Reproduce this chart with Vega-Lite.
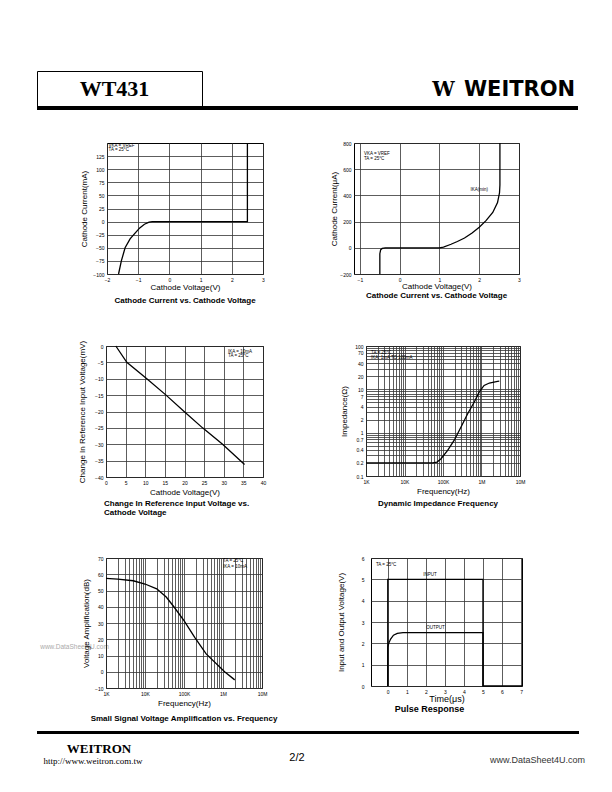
{
"$schema":"https://vega.github.io/schema/vega-lite/v6.json",
"padding":{"left":36,"top":70,"right":0,"bottom":0},
"config":{
  "view":{"stroke":null},
  "font":"Liberation Sans",
  "axis":{"tickCount":100,"format":"d","labelFontSize":5,"labelFont":"Liberation Sans","titleFont":"Liberation Sans","titleFontSize":8,"titleFontWeight":"normal","domain":false,"ticks":false,"labelPadding":3,"gridColor":"#333","gridWidth":0.8,"gridOpacity":1,"labelOverlap":false,"labelFlush":false,"labelBound":false,"labelColor":"black","titleColor":"black"},
  "title":{"font":"Liberation Sans","fontSize":8,"fontWeight":"bold","color":"black","orient":"bottom","anchor":"middle","frame":"group"},
  "text":{"color":"black"},
  "line":{"color":"black"}
},
"datasets":{
  "c1":[{"v":-1.63,"i":-100},{"v":-1.54,"i":-75},{"v":-1.42,"i":-50},{"v":-1.26,"i":-33},{"v":-1.1,"i":-22},{"v":-0.95,"i":-12},{"v":-0.8,"i":-5},{"v":-0.65,"i":-1},{"v":-0.55,"i":0},{"v":2.5,"i":0},{"v":2.5,"i":150}],
  "c1n":[{"v":-1.95,"i":144,"t":"VKA = VREF"},{"v":-1.95,"i":136,"t":"TA = 25°C"}],
  "c2":[{"v":-0.5,"i":-200},{"v":-0.5,"i":-45},{"v":-0.48,"i":-15},{"v":-0.44,"i":-5},{"v":-0.36,"i":0},{"v":1.0,"i":0},{"v":1.1,"i":6},{"v":1.29,"i":27},{"v":1.45,"i":48},{"v":1.63,"i":75},{"v":1.82,"i":113},{"v":2.0,"i":157},{"v":2.17,"i":207},{"v":2.34,"i":270},{"v":2.46,"i":345},{"v":2.51,"i":420},{"v":2.52,"i":480},{"v":2.52,"i":800}],
  "c2n":[{"v":-0.9,"i":716,"t":"VKA = VREF"},{"v":-0.9,"i":678,"t":"TA = 25°C"},{"v":1.78,"i":440,"t":"IKA(min)"}],
  "c3":[{"v":2.5,"d":0},{"v":5.3,"d":-5},{"v":10.4,"d":-10},{"v":15.3,"d":-15},{"v":19.9,"d":-20},{"v":24.6,"d":-25},{"v":29.7,"d":-30},{"v":35.3,"d":-36.2}],
  "c3n":[{"v":31.1,"d":-1.8,"t":"IKA = 10mA"},{"v":31.1,"d":-3.1,"t":"TA = 25°C"}],
  "c4":[{"f":1000,"z":0.2},{"f":54000,"z":0.2},{"f":70000,"z":0.21},{"f":89000,"z":0.25},{"f":132000,"z":0.39},{"f":196000,"z":0.67},{"f":294000,"z":1.35},{"f":437000,"z":2.74},{"f":650000,"z":5.1},{"f":876000,"z":8.7},{"f":1170000,"z":12.3},{"f":1600000,"z":14},{"f":2600000,"z":15.3},{"f":2900000,"z":15.4}],
  "c4n":[{"f":1350,"z":70,"t":"TA = 25°C"},{"f":1350,"z":54,"t":"IKA: 1mA TO 100mA"}],
  "c5":[{"f":1000,"g":57.5},{"f":2000,"g":57},{"f":5000,"g":56},{"f":10000,"g":54},{"f":20000,"g":51},{"f":35000,"g":46},{"f":55000,"g":40},{"f":100000,"g":31.5},{"f":190000,"g":21},{"f":370000,"g":11},{"f":1100000,"g":0},{"f":2000000,"g":-5}],
  "c5n":[{"f":1000000,"g":68,"t":"TA = 25°C"},{"f":1000000,"g":64.5,"t":"IKA = 10mA"}],
  "c6":[{"s":"Input","x":0,"y":0},{"s":"Input","x":0,"y":5},{"s":"Input","x":5,"y":5},{"s":"Input","x":5,"y":0},{"s":"Input","x":7.05,"y":0},
        {"s":"Output","x":0,"y":0},{"s":"Output","x":0,"y":1.8},{"s":"Output","x":0.05,"y":2.0},{"s":"Output","x":0.15,"y":2.2},{"s":"Output","x":0.3,"y":2.38},{"s":"Output","x":0.5,"y":2.47},{"s":"Output","x":0.8,"y":2.5},{"s":"Output","x":5,"y":2.5},{"s":"Output","x":5,"y":0}],
  "c6n":[{"x":-0.62,"y":5.67,"t":"TA = 25°C"},{"x":1.86,"y":5.2,"t":"INPUT"},{"x":2.02,"y":2.72,"t":"OUTPUT"}]
},
"bounds":"flush",
"spacing":0,
"vconcat":[
  {"bounds":"flush","spacing":0,"hconcat":[
    {"width":165,"height":35,"view":{"stroke":"black","strokeWidth":1},"data":{"values":[{"t":"WT431"}]},"mark":{"type":"text","font":"Liberation Serif","fontWeight":"bold","fontSize":22,"baseline":"alphabetic","dx":-5,"dy":7.5},"encoding":{"text":{"field":"t"}}},
    {"width":224,"height":35,"data":{"values":[]},"mark":"point"},
    {"width":35,"height":35,"data":{"values":[{"t":"W"}]},"mark":{"type":"text","font":"DejaVu Serif","fontWeight":"bold","fontSize":20,"baseline":"middle","dy":1},"encoding":{"text":{"field":"t"}}},
    {"width":117,"height":35,"data":{"values":[{"t":"WEITRON"}]},"mark":{"type":"text","font":"DejaVu Sans","fontWeight":"bold","fontSize":21,"baseline":"alphabetic","dy":7.5},"encoding":{"text":{"field":"t"}}}
  ]},
  {"width":1,"height":35,"data":{"values":[]},"mark":"point"},
  {"width":541,"height":4,"data":{"values":[]},"mark":"point","view":{"fill":"black","stroke":null}},
  {"width":1,"height":33,"data":{"values":[]},"mark":"point"},
  {"bounds":"flush","spacing":0,"hconcat":[
    {"width":70,"height":1,"data":{"values":[]},"mark":"point"},
    {"width":156,"height":131,"view":{"stroke":"black","strokeWidth":1},
     "title":{"text":"Cathode Current vs. Cathode Voltage","offset":6},
     "layer":[
      {"data":{"name":"c1"},"mark":{"type":"line","strokeWidth":1.3},
       "encoding":{"x":{"field":"v","type":"quantitative","scale":{"domain":[-2,3],"nice":false,"zero":false},"axis":{"values":[-2,-1,0,1,2,3],"title":"Cathode Voltage(V)","titlePadding":1}},
                   "y":{"field":"i","type":"quantitative","scale":{"domain":[-100,150],"nice":false,"zero":false},"axis":{"values":[-100,-75,-50,-25,0,25,50,75,100,125],"title":"Cathode Current(mA)","titlePadding":4}},
                   "order":{"value":null}}},
      {"data":{"name":"c1n"},"mark":{"type":"text","align":"left","fontSize":4.5,"baseline":"middle"},
       "encoding":{"x":{"field":"v","type":"quantitative"},"y":{"field":"i","type":"quantitative"},"text":{"field":"t"}}}
     ]},
    {"width":91,"height":1,"data":{"values":[]},"mark":"point"},
    {"width":165,"height":131,"view":{"stroke":"black","strokeWidth":1},
     "title":{"text":"Cathode Current vs. Cathode Voltage","offset":2},
     "layer":[
      {"data":{"name":"c2"},"mark":{"type":"line","strokeWidth":1.3},
       "encoding":{"x":{"field":"v","type":"quantitative","scale":{"domain":[-1.15,3],"nice":false,"zero":false},"axis":{"values":[-1,0,1,2,3],"title":"Cathode Voltage(V)","titlePadding":0}},
                   "y":{"field":"i","type":"quantitative","scale":{"domain":[-200,800],"nice":false,"zero":false},"axis":{"values":[-200,0,200,400,600,800],"title":"Cathode Current(μA)","titlePadding":1}},
                   "order":{"value":null}}},
      {"data":{"name":"c2n"},"mark":{"type":"text","align":"left","fontSize":4.5,"baseline":"middle"},
       "encoding":{"x":{"field":"v","type":"quantitative"},"y":{"field":"i","type":"quantitative"},"text":{"field":"t"}}}
     ]}
  ]},
  {"width":1,"height":203,"data":{"values":[]},"mark":"point"},
  {"bounds":"flush","spacing":0,"hconcat":[
    {"width":69,"height":1,"data":{"values":[]},"mark":"point"},
    {"width":157,"height":131,"view":{"stroke":"black","strokeWidth":1},
     "title":{"text":["Change In Reference Input Voltage vs.","\u00a0\u00a0\u00a0\u00a0\u00a0Cathode Voltage"],"anchor":"start","offset":4,"dx":-2,"lineHeight":9},
     "layer":[
      {"data":{"name":"c3"},"mark":{"type":"line","strokeWidth":1.3},
       "encoding":{"x":{"field":"v","type":"quantitative","scale":{"domain":[0,40],"nice":false},"axis":{"values":[0,5,10,15,20,25,30,35,40],"title":"Cathode Voltage(V)","titlePadding":3}},
                   "y":{"field":"d","type":"quantitative","scale":{"domain":[-40,0],"nice":false},"axis":{"values":[-40,-35,-30,-25,-20,-15,-10,-5,0],"title":"Change In Reference Input Voltage(mV)","titlePadding":8}},
                   "order":{"value":null}}},
      {"data":{"name":"c3n"},"mark":{"type":"text","align":"left","fontSize":4.5,"baseline":"middle"},
       "encoding":{"x":{"field":"v","type":"quantitative"},"y":{"field":"d","type":"quantitative"},"text":{"field":"t"}}}
     ]},
    {"width":103,"height":1,"data":{"values":[]},"mark":"point"},
    {"width":154,"height":130,"view":{"stroke":"black","strokeWidth":1},
     "title":{"text":"Dynamic Impedance Frequency","offset":5,"dx":-5},
     "layer":[
      {"data":{"name":"c4"},"mark":{"type":"line","strokeWidth":1.3},
       "encoding":{"x":{"field":"f","type":"quantitative","scale":{"type":"log","domain":[1000,10000000],"nice":false},"axis":{"values":[1000,2000,3000,4000,5000,6000,7000,8000,9000,10000,20000,30000,40000,50000,60000,70000,80000,90000,100000,200000,300000,400000,500000,600000,700000,800000,900000,1000000,2000000,3000000,4000000,5000000,6000000,7000000,8000000,9000000,10000000],"labelExpr":"datum.value == 1000 ? '1K' : datum.value == 10000 ? '10K' : datum.value == 100000 ? '100K' : datum.value == 1000000 ? '1M' : datum.value == 10000000 ? '10M' : ''","title":"Frequency(Hz)","titlePadding":3}},
                   "y":{"field":"z","type":"quantitative","scale":{"type":"log","domain":[0.1,100],"nice":false},"axis":{"values":[0.1,0.2,0.3,0.4,0.5,0.6,0.7,0.8,0.9,1,2,3,4,5,6,7,8,9,10,20,30,40,50,60,70,80,90,100],"labelExpr":"indexof([100,70,40,20,10,7,4,2,1,0.7,0.4,0.2,0.1], datum.value) >= 0 ? '' + datum.value : ''","title":"Impedance(Ω)","titlePadding":6}},
                   "order":{"value":null}}},
      {"data":{"name":"c4n"},"mark":{"type":"text","align":"left","fontSize":4.5,"baseline":"middle"},
       "encoding":{"x":{"field":"f","type":"quantitative"},"y":{"field":"z","type":"quantitative"},"text":{"field":"t"}}}
     ]}
  ]},
  {"width":1,"height":212,"data":{"values":[]},"mark":"point"},
  {"bounds":"flush","spacing":0,"hconcat":[
    {"width":69,"height":1,"data":{"values":[{"t":"www.DataSheet4U.com"}]},"mark":{"type":"text","font":"Liberation Sans","fontSize":6.5,"baseline":"middle","dx":3,"dy":88,"color":"#aaa"},"encoding":{"text":{"field":"t"}}},
    {"width":156,"height":130,"view":{"stroke":"black","strokeWidth":1},
     "title":{"text":"Small Signal Voltage Amplification vs. Frequency","offset":8},
     "layer":[
      {"data":{"name":"c5"},"mark":{"type":"line","strokeWidth":1.3},
       "encoding":{"x":{"field":"f","type":"quantitative","scale":{"type":"log","domain":[1000,10000000],"nice":false},"axis":{"values":[1000,2000,3000,4000,5000,6000,7000,8000,9000,10000,20000,30000,40000,50000,60000,70000,80000,90000,100000,200000,300000,400000,500000,600000,700000,800000,900000,1000000,2000000,3000000,4000000,5000000,6000000,7000000,8000000,9000000,10000000],"labelExpr":"datum.value == 1000 ? '1K' : datum.value == 10000 ? '10K' : datum.value == 100000 ? '100K' : datum.value == 1000000 ? '1M' : datum.value == 10000000 ? '10M' : ''","title":"Frequency(Hz)","titlePadding":3}},
                   "y":{"field":"g","type":"quantitative","scale":{"domain":[-10,70],"nice":false,"zero":false},"axis":{"values":[-10,0,10,20,30,40,50,60,70],"title":"Voltage Amplification(dB)","titlePadding":4}},
                   "order":{"value":null}}},
      {"data":{"name":"c5n"},"mark":{"type":"text","align":"left","fontSize":4.5,"baseline":"middle"},
       "encoding":{"x":{"field":"f","type":"quantitative"},"y":{"field":"g","type":"quantitative"},"text":{"field":"t"}}}
     ]},
    {"width":109,"height":1,"data":{"values":[]},"mark":"point"},
    {"width":151,"height":128,"view":{"stroke":"black","strokeWidth":1},
     "title":{"text":"Pulse Response","offset":2,"dx":-17,"fontSize":9},
     "layer":[
      {"data":{"name":"c6"},"mark":{"type":"line","strokeWidth":1.3},
       "encoding":{"x":{"field":"x","type":"quantitative","scale":{"domain":[-0.88,7.05],"nice":false,"zero":false},"axis":{"values":[0,1,2,3,4,5,6,7],"title":"Time(μs)","titleFontSize":9,"titlePadding":0}},
                   "y":{"field":"y","type":"quantitative","scale":{"domain":[0,6],"nice":false},"axis":{"values":[0,1,2,3,4,5,6],"title":"Input and Output Voltage(V)","labelPadding":7,"titlePadding":16}},
                   "detail":{"field":"s"},
                   "order":{"value":null}}},
      {"data":{"name":"c6n"},"mark":{"type":"text","align":"left","fontSize":4.5,"baseline":"middle"},
       "encoding":{"x":{"field":"x","type":"quantitative"},"y":{"field":"y","type":"quantitative"},"text":{"field":"t"}}}
     ]}
  ]},
  {"width":1,"height":173,"data":{"values":[]},"mark":"point"},
  {"width":542,"height":3,"data":{"values":[]},"mark":"point","view":{"fill":"black","stroke":null}},
  {"bounds":"flush","spacing":0,"hconcat":[
    {"width":124,"height":35,"layer":[
      {"data":{"values":[{"t":"WEITRON"}]},"mark":{"type":"text","font":"Liberation Serif","fontWeight":"bold","fontSize":13,"baseline":"alphabetic","dy":1.5},"encoding":{"text":{"field":"t"}}},
      {"data":{"values":[{"t":"http://www.weitron.com.tw"}]},"mark":{"type":"text","font":"Liberation Serif","fontSize":9,"baseline":"alphabetic","dx":-6,"dy":12},"encoding":{"text":{"field":"t"}}}
    ]},
    {"width":331,"height":35,"data":{"values":[{"t":"2/2"}]},"mark":{"type":"text","font":"Liberation Sans","fontSize":11,"baseline":"middle","dx":-29.5,"dy":6.5},"encoding":{"text":{"field":"t"}}},
    {"width":91,"height":35,"data":{"values":[{"t":"www.DataSheet4U.com"}]},"mark":{"type":"text","font":"Liberation Sans","fontSize":9,"baseline":"middle","dy":8,"color":"#333"},"encoding":{"text":{"field":"t"}}}
  ]}
]
}
